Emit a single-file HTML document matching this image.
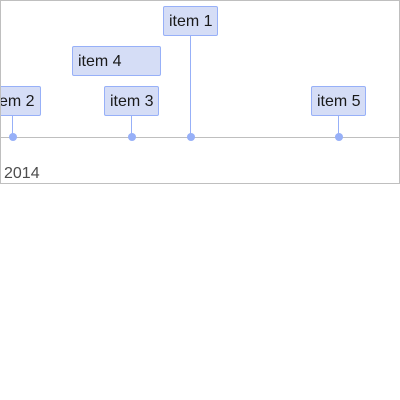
<!DOCTYPE html>
<html><head><style>
html,body{margin:0;padding:0;width:400px;height:400px;background:#fff;overflow:hidden}
.frame{position:absolute;left:0;top:0;width:398px;height:182px;border:1px solid #bfbfbf;overflow:hidden}
.item{position:absolute;height:30px;box-sizing:border-box;background:#d5ddf6;border:1px solid #97b0f8;border-radius:2px;font:16px "Liberation Sans",sans-serif;color:#1a1a1a;line-height:30px;padding-left:5px;white-space:nowrap}
.line{position:absolute;width:1px;background:#97b0f8}
.dot{position:absolute;width:8px;height:8px;border-radius:50%;background:#97b0f8}
.axis{position:absolute;left:0;width:400px;top:136px;height:1px;background:#bfbfbf}
.lbl{position:absolute;left:3px;top:164px;font:16px "Liberation Sans",sans-serif;color:#4d4d4d}
</style></head><body>
<div class="frame">
<div class="axis"></div>
<div class="line" style="left:189px;top:34px;height:102px"></div>
<div class="line" style="left:11px;top:114px;height:22px"></div>
<div class="line" style="left:130px;top:114px;height:22px"></div>
<div class="line" style="left:337px;top:114px;height:22px"></div>
<div class="item" style="left:162px;top:5px;width:55px">item 1</div>
<div class="item" style="left:71px;top:45px;width:89px">item 4</div>
<div class="item" style="left:-16px;top:85px;width:56px">item 2</div>
<div class="item" style="left:103px;top:85px;width:55px">item 3</div>
<div class="item" style="left:310px;top:85px;width:55px">item 5</div>
<div class="dot" style="left:8px;top:132px"></div>
<div class="dot" style="left:127px;top:132px"></div>
<div class="dot" style="left:186px;top:132px"></div>
<div class="dot" style="left:334px;top:132px"></div>
<div class="lbl">2014</div>
</div>
</body></html>
